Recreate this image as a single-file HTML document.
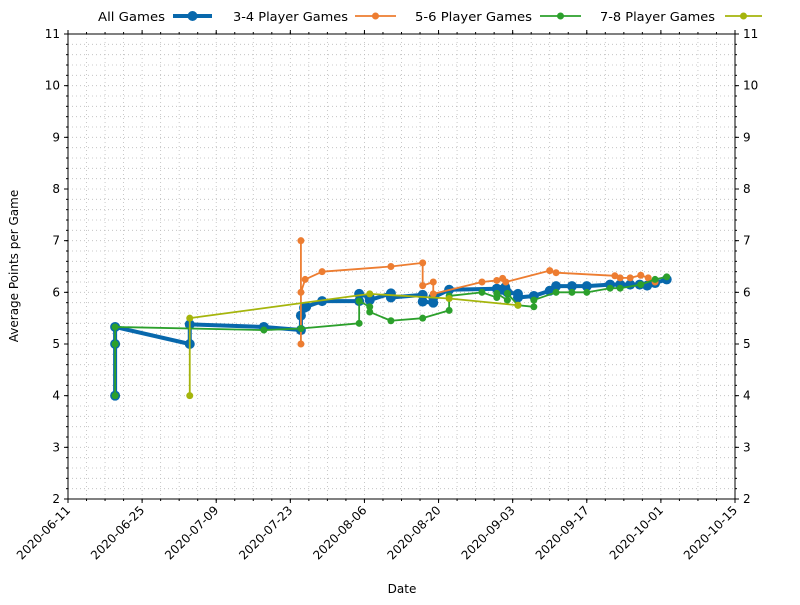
<!DOCTYPE html>
<html><head><meta charset="utf-8"><style>
body{margin:0;background:#fff;font-family:"Liberation Sans","DejaVu Sans",sans-serif}
svg text{font-family:"DejaVu Sans","Liberation Sans",sans-serif;font-size:12px;fill:#000}
</style></head><body>
<svg id="chart" width="800" height="600" xmlns="http://www.w3.org/2000/svg"></svg>
<script>
// days since 2020-06-11
const allDays=[8.9,8.9,8.9,23,23,37,44,44,44.6,45,48,55,55,57,57,61,61,67,67,69,69,72,81,82,82.6,83,85,85,88,91,92.2,95.2,98,102.4,104.3,106.2,108,109.4,110.9,113.1];
const allVals=[4,5,5.33,5,5.38,5.33,5.27,5.55,5.7,5.72,5.83,5.83,5.97,5.9,5.85,5.98,5.9,5.95,5.82,5.8,5.9,6.05,6.07,6.05,6.1,6.0,5.97,5.9,5.93,6.03,6.12,6.12,6.12,6.15,6.15,6.15,6.15,6.13,6.18,6.25];
const p34Days=[44,44,44,44.8,48,61,67,67,69,69,78.2,81,82.1,82.7,91,92.2,103.3,104.3,106.2,108.2,109.6,110.9];
const p34Vals=[7,5,6,6.25,6.4,6.5,6.57,6.13,6.2,5.97,6.2,6.23,6.27,6.2,6.42,6.38,6.32,6.28,6.28,6.33,6.28,6.2];
const p56Days=[8.9,8.9,8.9,37,44,55,55,57,57,61,67,72,72,78.2,81,81,83,83,85,88,88,92.2,95.2,98,102.4,104.3,108.2,110.9,113.1];
const p56Vals=[4,5,5.33,5.27,5.3,5.4,5.83,5.72,5.62,5.45,5.5,5.65,5.93,6.0,5.9,5.98,5.85,5.98,5.75,5.72,5.85,6.0,6.0,6.0,6.08,6.08,6.15,6.25,6.3];
const p78Days=[23,23,57,72,85];
const p78Vals=[4,5.5,5.97,5.88,5.75];
const xTickLabels=["2020-06-11","2020-06-25","2020-07-09","2020-07-23","2020-08-06","2020-08-20","2020-09-03","2020-09-17","2020-10-01","2020-10-15"];
const yTicks=[2,3,4,5,6,7,8,9,10,11];

const NS="http://www.w3.org/2000/svg";
const svg=document.getElementById('chart');
const L=68,R=735,T=34,B=499;
const x=d=>L+d*(R-L)/126;
const y=v=>B-(v-2)*(B-T)/9;
function mk(t,a,p){const e=document.createElementNS(NS,t);for(const k in a)e.setAttribute(k,a[k]);(p||svg).appendChild(e);return e;}
const grid=mk('g',{});


for(let v=2;v<=11.001;v+=0.2){mk('line',{x1:L,x2:R,y1:y(v),y2:y(v),stroke:'#bbb','stroke-width':0.8,'stroke-dasharray':'1,3'},grid);}
for(let d=0;d<=126;d+=3.5){mk('line',{x1:x(d),x2:x(d),y1:T,y2:B,stroke:'#bbb','stroke-width':0.8,'stroke-dasharray':'1,3'},grid);}
const frame=mk('rect',{x:L,y:T,width:R-L,height:B-T,fill:'none',stroke:'#000','stroke-width':1});


yTicks.forEach(v=>{
 mk('line',{x1:L-4,x2:L,y1:y(v),y2:y(v),stroke:'#000'});
 mk('line',{x1:R,x2:R+4,y1:y(v),y2:y(v),stroke:'#000'});
 const t1=mk('text',{x:L-8,y:y(v)+4,'text-anchor':'end'});t1.textContent=v;
 
 
 const t2=mk('text',{x:R+8,y:y(v)+4});t2.textContent=v;
 
 
});
for(let v=2;v<=11.001;v+=0.2){mk('line',{x1:L-2,x2:L,y1:y(v),y2:y(v),stroke:'#000'});mk('line',{x1:R,x2:R+2,y1:y(v),y2:y(v),stroke:'#000'});}
xTickLabels.forEach((s,i)=>{
 const xx=x(i*14);
 mk('line',{x1:xx,x2:xx,y1:B,y2:B+4,stroke:'#000'});mk('line',{x1:xx,x2:xx,y1:T-4,y2:T,stroke:'#000'});
 const t=mk('text',{x:xx+3,y:B+12,'text-anchor':'end',transform:`rotate(-45 ${xx+3} ${B+12})`});t.textContent=s;
 
 
});
for(let d=0;d<=126;d+=3.5){mk('line',{x1:x(d),x2:x(d),y1:B,y2:B+2,stroke:'#000'});mk('line',{x1:x(d),x2:x(d),y1:T-2,y2:T,stroke:'#000'});}
const xt=mk('text',{x:402,y:593,'text-anchor':'middle'});xt.textContent='Date';


const yt=mk('text',{x:18,y:266,'text-anchor':'middle',transform:'rotate(-90 18 266)'});yt.textContent='Average Points per Game';


function series(days,vals,color,w,r,name){
 const g=mk('g',{});
 
 
 mk('polyline',{points:days.map((d,i)=>x(d)+','+y(vals[i])).join(' '),fill:'none',stroke:color,'stroke-width':w,'stroke-linejoin':'round'},g);
 days.forEach((d,i)=>{const c=mk('circle',{cx:x(d),cy:y(vals[i]),r:r,fill:color},g);
  
  });
}
series(allDays,allVals,'#0868ac',4,5,'series-all-games');
series(p34Days,p34Vals,'#ed7d31',1.8,3.5,'series-3-4-player');
series(p56Days,p56Vals,'#2ca02c',1.8,3.5,'series-5-6-player');
series(p78Days,p78Vals,'#a5b50c',1.8,3.5,'series-7-8-player');
const leg=[["All Games",98,165,173,212,'#0868ac',4,5],["3-4 Player Games",233,348,355,396,'#ed7d31',1.8,3.5],["5-6 Player Games",415,532,540,581,'#2ca02c',1.8,3.5],["7-8 Player Games",600,715,725,762,'#a5b50c',1.8,3.5]];
leg.forEach(l=>{
 const g=mk('g',{});
 
 
 const t=mk('text',{x:l[1],y:21,textLength:l[2]-l[1],lengthAdjust:'spacingAndGlyphs'},g);t.textContent=l[0];
 mk('line',{x1:l[3],x2:l[4],y1:16,y2:16,stroke:l[5],'stroke-width':l[6]},g);
 mk('circle',{cx:(l[3]+l[4])/2,cy:16,r:l[7],fill:l[5]},g);
});
</script>
</body></html>
